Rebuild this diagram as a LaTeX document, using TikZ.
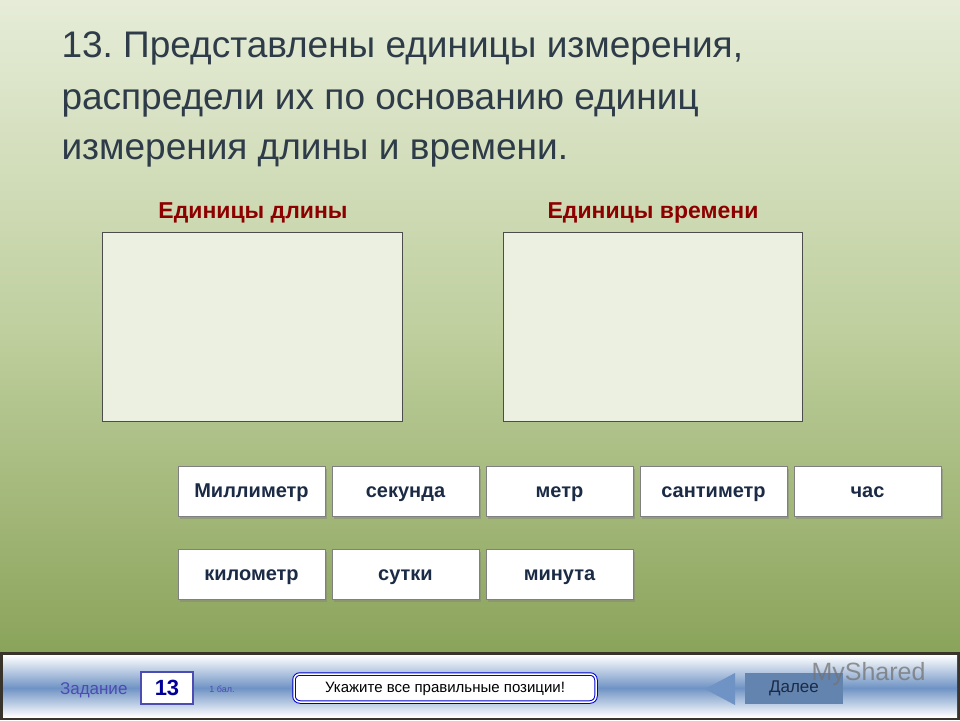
\documentclass[tikz,border=0pt]{standalone}
\usepackage{fontspec}
\setmainfont{Liberation Sans}
\usetikzlibrary{shadows}
\definecolor{bgtop}{HTML}{E6ECD8}
\definecolor{bgmid}{HTML}{BFCF9E}
\definecolor{bgbot}{HTML}{8AA35A}
\definecolor{ttl}{HTML}{2E3B48}
\definecolor{navy}{HTML}{1B2B45}
\definecolor{barblue}{HTML}{6F93C4}
\frenchspacing
\begin{document}
\begin{tikzpicture}[x=1pt,y=-1pt,
  title/.style={anchor=base west,font=\fontsize{37}{37}\selectfont,text=ttl},
  head/.style={font=\bfseries\fontsize{23}{23}\selectfont,text=red!55!black},
  area/.style={draw=black!70,fill=bgtop!80!white,line width=0.8pt},
  btn/.style={draw=black!50,fill=white,minimum width=147pt,minimum height=50pt,inner sep=0pt,
     text height=14pt,text depth=2pt,
     font=\bfseries\fontsize{20}{20}\selectfont,text=navy,
     drop shadow={shadow xshift=2pt,shadow yshift=-3pt,opacity=0.45}}]
\useasboundingbox (0,0) rectangle (960,720);
\shade[top color=bgtop,bottom color=bgmid] (0,0) rectangle (960,330);
\shade[top color=bgmid,bottom color=bgbot] (0,330) rectangle (960,655);
\fill[black!80!olive] (0,652) rectangle (960,720);
\shade[top color=white,bottom color=barblue] (3,655) rectangle (957,688);
\shade[top color=barblue,bottom color=white] (3,688) rectangle (957,717);
\node[title] (t1) at (58,57) {13. Представлены единицы измерения,};
\node[title] (t2) at (58,109) {распредели их по основанию единиц};
\node[title] (t3) at (58,159) {измерения длины и времени.};
\node[head] (h1) at (253,213) {Единицы длины};
\node[head] (h2) at (653,213) {Единицы времени};
\draw[area] (102,232) rectangle (402,421);
\draw[area] (503,232) rectangle (802,421);
\node[btn] (b1) at (251.5,491) {Миллиметр};
\node[btn] (b2) at (405.5,491) {секунда};
\node[btn] (b3) at (559.5,491) {метр};
\node[btn] (b4) at (713.5,491) {сантиметр};
\node[btn] (b5) at (867.5,491) {час};
\node[btn] (b6) at (251.5,574) {километр};
\node[btn] (b7) at (405.5,574) {сутки};
\node[btn] (b8) at (559.5,574) {минута};
\node[anchor=base east,font=\fontsize{17}{17}\selectfont,text=blue!40!gray] (z) at (131,694) {Задание};
\node[draw=blue!40!gray,line width=1.5pt,fill=white,minimum width=52pt,minimum height=32pt,text height=15pt,text depth=0pt,font=\bfseries\fontsize{22}{22}\selectfont,text=blue!60!black] (n) at (167,688) {13};
\node[font=\fontsize{9}{9}\selectfont,text=blue!40!gray] (p) at (222,689) {1 бал.};
\node[draw=blue!80!black,double=white,double distance=1.5pt,line width=1pt,rounded corners=6pt,fill=white,minimum width=302pt,minimum height=28pt,text height=11pt,text depth=3pt,font=\fontsize{15}{15}\selectfont] (m) at (445,688) {Укажите все правильные позиции!};
\fill[barblue] (705,689) coordinate (tri) -- (735,673) -- (735,705) -- cycle;
\node[fill=barblue!90!black,minimum width=98pt,minimum height=31pt,font=\fontsize{17}{17}\selectfont,text=navy] (d) at (794,688) {Далее};
\node[anchor=west,font=\fontsize{25}{25}\selectfont,text=black!55,opacity=0.75] (w) at (808,674) {MyShared};
\end{tikzpicture}
\end{document}
